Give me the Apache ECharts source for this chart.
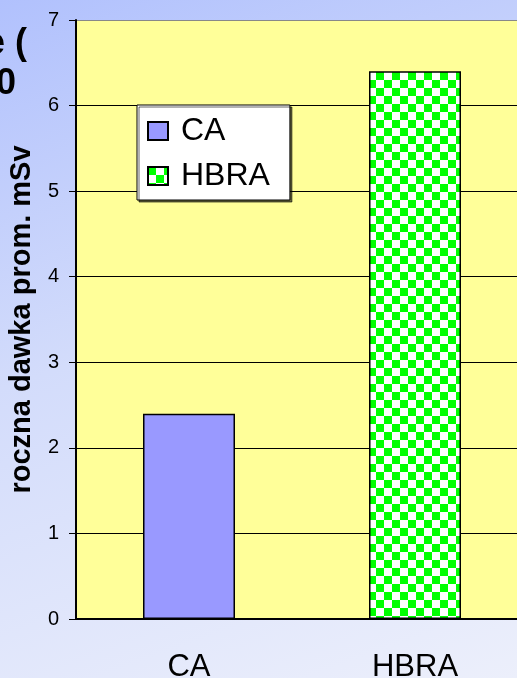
<!DOCTYPE html>
<html>
<head>
<meta charset="utf-8">
<script src="https://cdn.jsdelivr.net/npm/echarts@6/dist/echarts.min.js"></script>
<style>
html, body { margin: 0; padding: 0; }
#main { width: 517px; height: 678px; background: linear-gradient(160deg, #b1c1fd 0%, #d3dcfb 45%, #eceffb 100%); }
</style>
</head>
<body>
<div id="main"></div>
<script>
// dane
var categories = ['CA', 'HBRA'];
var caValues = [2.4, '-'];
var hbraValues = ['-', 6.4];
var yName = 'roczna dawka prom. mSv';

// szachownica dla HBRA
var pat = document.createElement('canvas');
pat.width = 16; pat.height = 16;
var ctx = pat.getContext('2d');
ctx.fillStyle = '#ffffff';
ctx.fillRect(0, 0, 16, 16);
ctx.fillStyle = '#00ff00';
ctx.fillRect(0, 0, 8, 8);
ctx.fillRect(8, 8, 8, 8);

var myChart = echarts.init(document.getElementById('main'));
var option = {
    backgroundColor: 'transparent',
    animation: false,
    grid: {
        left: 76, width: 452, top: 20, bottom: 59,
        outerBoundsMode: 'none', containLabel: false,
        show: true, backgroundColor: '#ffff99', borderWidth: 0
    },
    legend: {
        orient: 'vertical',
        left: 137, top: 105,
        data: ['CA', 'HBRA'],
        backgroundColor: '#ffffff',
        borderColor: '#000',
        borderWidth: 1,
        borderRadius: 0,
        shadowColor: 'rgba(0,0,0,0.6)',
        shadowOffsetX: 2, shadowOffsetY: 2, shadowBlur: 0,
        padding: [10, 20, 8, 10],
        itemWidth: 20, itemHeight: 18, itemGap: 13,
        icon: 'rect',
        textStyle: { fontSize: 32, color: '#000', fontFamily: 'Liberation Sans', padding: [0, 0, 0, 8] }
    },
    xAxis: {
        type: 'category',
        data: categories,
        axisLine: { lineStyle: { color: '#000', width: 2 } },
        axisTick: { length: 8, lineStyle: { color: '#000', width: 2 } },
        axisLabel: { fontSize: 31, color: '#000', margin: 33, fontFamily: 'Liberation Sans' }
    },
    yAxis: {
        type: 'value',
        min: 0, max: 7, interval: 1,
        name: yName,
        nameLocation: 'middle',
        nameGap: 33,
        nameTextStyle: { fontSize: 29, fontWeight: 'bold', color: '#000', fontFamily: 'Liberation Sans' },
        axisLine: { show: true, lineStyle: { color: '#000', width: 2 } },
        axisTick: { show: true, length: 7, lineStyle: { color: '#000' } },
        axisLabel: { fontSize: 20, color: '#000', margin: 17, fontFamily: 'Liberation Sans' },
        splitLine: { lineStyle: { color: ['#000', '#000', '#000', '#000', '#000', '#000', '#000', '#888'], width: 1 } }
    },
    series: [
        {
            name: 'CA', type: 'bar', stack: 'one', barWidth: 92,
            data: caValues,
            itemStyle: { color: '#9999ff', borderColor: '#000', borderWidth: 1.5 }
        },
        {
            name: 'HBRA', type: 'bar', stack: 'one', barWidth: 92,
            data: hbraValues,
            itemStyle: { color: { image: pat, repeat: 'repeat' }, borderColor: '#000', borderWidth: 1.5 }
        }
    ],
    graphic: [
        { type: 'text', right: 490, top: 26, style: { text: 'e (', font: 'bold 36px "Liberation Sans"', fill: '#000' } },
        { type: 'text', left: -4, top: 66, style: { text: '0', font: 'bold 36px "Liberation Sans"', fill: '#000' } }
    ]
};
myChart.setOption(option);
</script>
</body>
</html>
